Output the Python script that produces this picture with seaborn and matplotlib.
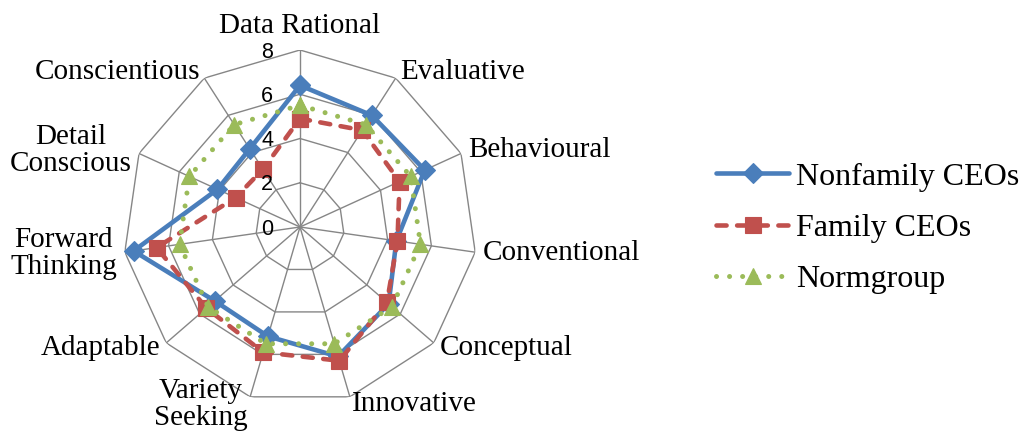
import numpy as np
import matplotlib
matplotlib.use("Agg")
import matplotlib.pyplot as plt
import seaborn as sns

# Profile dimensions, clockwise from the top
categories = ["Data Rational", "Evaluative", "Behavioural", "Conventional",
              "Conceptual", "Innovative", "Variety\nSeeking", "Adaptable",
              "Forward\nThinking", "Detail\nConscious", "Conscientious"]

nonfamily = [6.4, 6.0, 6.2, 4.4, 5.3, 6.1, 5.15, 5.1, 7.6, 4.1, 4.2]
family = [4.9, 5.2, 4.95, 4.45, 5.2, 6.3, 5.9, 5.6, 6.55, 3.2, 3.1]
normgroup = [5.5, 5.5, 5.5, 5.5, 5.5, 5.5, 5.5, 5.5, 5.5, 5.5, 5.5]

series_names = ["Nonfamily CEOs", "Family CEOs", "Normgroup"]
ring_ticks = [0, 2, 4, 6, 8]

sns.set_style("white")
plt.rcParams["text.color"] = "black"
serif = "Liberation Serif"
sans = "Liberation Sans"

W, H = 1027, 432
fig = plt.figure(figsize=(W / 100, H / 100), dpi=100)

# polar axes centred at (300, 227) px with radius 177 px for the value 8
cx, cy, R = 300, 227, 177
ax = fig.add_axes([(cx - R) / W, (H - cy - R) / H, 2 * R / W, 2 * R / H],
                  projection="polar")
ax.set_theta_zero_location("N")
ax.set_theta_direction(-1)
ax.set_ylim(0, 8)
ax.grid(False)
ax.set_xticks([])
ax.set_yticks([])
ax.spines["polar"].set_visible(False)
ax.patch.set_alpha(0)

n = len(categories)
theta = np.arange(n) * 2 * np.pi / n
theta_closed = np.append(theta, 2 * np.pi)

grid_color = "#868686"
# polygon rings
for r in ring_ticks[1:]:
    ax.plot(theta_closed, [r] * (n + 1), color=grid_color, lw=1.0, zorder=1)
# spokes
for t in theta:
    ax.plot([t, t], [0, 8], color=grid_color, lw=1.0, zorder=1)

styles = {
    "Nonfamily CEOs": dict(color="#4A7EBB", marker="D", markersize=10,
                           linestyle="-", lw=3.3),
    "Family CEOs": dict(color="#C0504D", marker="s", markersize=11.5,
                        linestyle=(0, (2.2, 2.3)), lw=3.3),
    "Normgroup": dict(color="#9BBB59", marker="^", markersize=12,
                      linestyle=(0, (0.01, 2.6)), lw=3.6),
}

for name, vals in zip(series_names, [nonfamily, family, normgroup]):
    st = styles[name]
    closed = list(vals) + [vals[0]]
    sns.lineplot(x=theta_closed, y=closed, ax=ax, sort=False, estimator=None,
                 color=st["color"], marker=st["marker"],
                 markersize=st["markersize"], markeredgecolor=st["color"],
                 markeredgewidth=0.8, linestyle=st["linestyle"],
                 linewidth=st["lw"], dash_capstyle="round",
                 solid_joinstyle="round", label=name, zorder=3,
                 clip_on=False, legend=False)

# ring value labels along the top spoke
for v in ring_ticks:
    ax.annotate(str(v), xy=(0, v), xytext=(-27, -2), textcoords="offset pixels",
                ha="right", va="center", fontsize=15.5, family=sans,
                color="black", zorder=4)

# category labels outside the outer ring
for t, lab in zip(theta, categories):
    s, c = np.sin(t), np.cos(t)
    if abs(s) < 0.1:
        ax.text(t, 8.75, lab, ha="center", va="baseline", fontsize=21,
                family=serif, linespacing=1.05, multialignment="center",
                color="black")
    else:
        ha = "left" if s > 0 else "right"
        ax.text(t, 8.35, lab, ha=ha, va="center", fontsize=21,
                family=serif, linespacing=1.05, multialignment="center",
                color="black")

handles, labels = ax.get_legend_handles_labels()
fig.legend(handles, labels, loc="center left",
           bbox_to_anchor=(716 / W, (H - 228) / H), frameon=False,
           prop={"family": serif, "size": 23}, handlelength=2.3,
           handletextpad=0.2, labelspacing=0.68, borderpad=0,
           borderaxespad=0, numpoints=1, labelcolor="black")

fig.savefig("out.png", dpi=100)
